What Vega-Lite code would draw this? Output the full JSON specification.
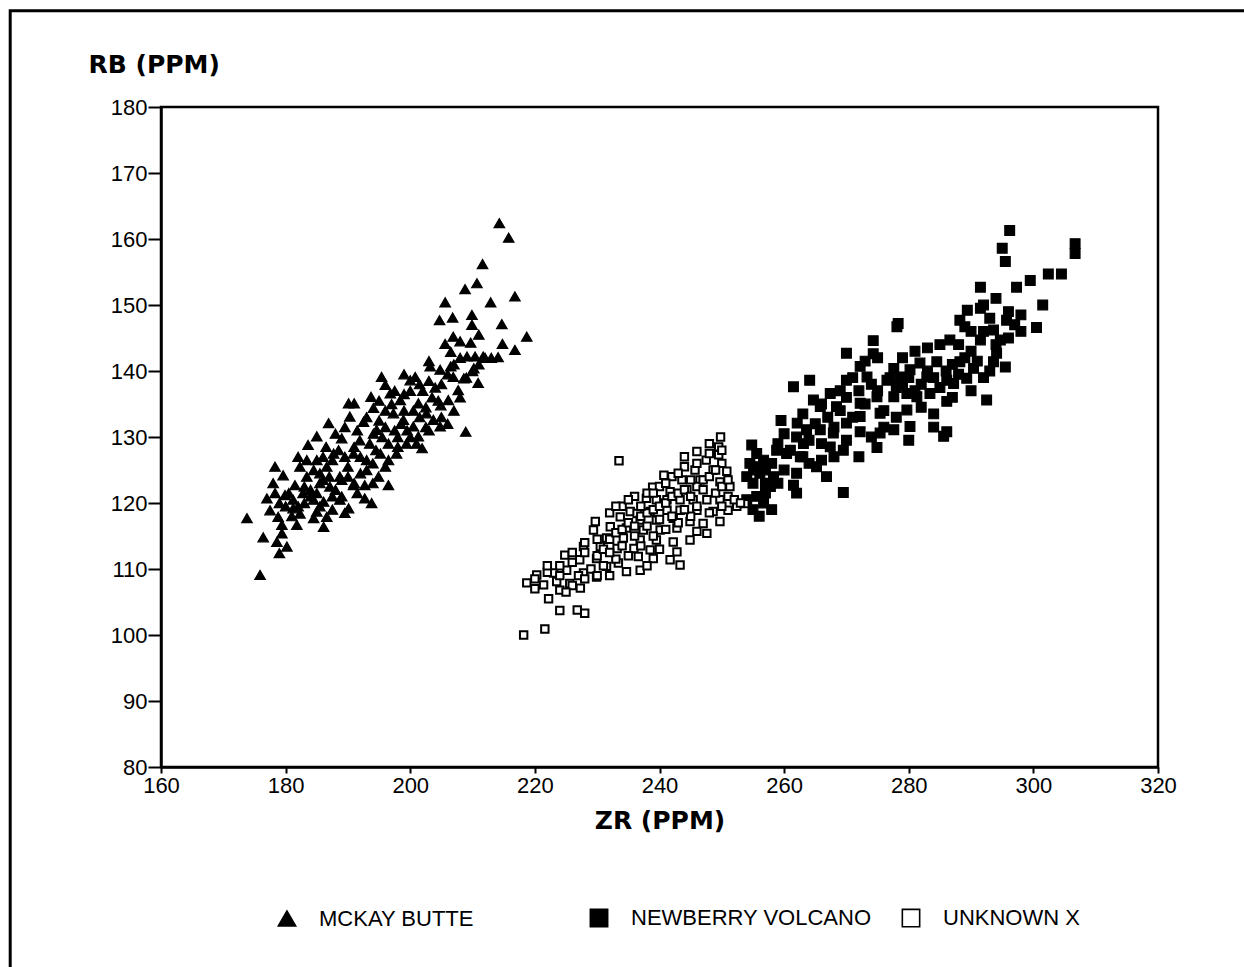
{
  "$schema": "https://vega.github.io/schema/vega-lite/v6.json",
  "width": 997,
  "height": 660,
  "autosize": {"type": "none"},
  "padding": {"left": 161, "top": 107, "right": 86, "bottom": 200},
  "background": "white",
  "config": {
    "view": {"stroke": "black", "strokeWidth": 2.5},
    "font": "Liberation Sans"
  },
  "layer": [
    {
      "data": {"values": [{"frame": "outer"}]},
      "mark": {"type": "rect", "filled": false, "color": "black", "strokeWidth": 3, "clip": false},
      "encoding": {
        "x": {"datum": 135.8, "type": "quantitative"},
        "x2": {"datum": 400},
        "y": {"datum": 194.6, "type": "quantitative"},
        "y2": {"datum": 0}
      }
    },
    {
      "data": {
        "values": [
          {"group": "MCKAY BUTTE", "zr": 214.3, "rb": 162.4},
          {"group": "MCKAY BUTTE", "zr": 215.8, "rb": 160.2},
          {"group": "MCKAY BUTTE", "zr": 211.6, "rb": 156.2},
          {"group": "MCKAY BUTTE", "zr": 210.7, "rb": 153.3},
          {"group": "MCKAY BUTTE", "zr": 208.8, "rb": 152.4},
          {"group": "MCKAY BUTTE", "zr": 216.8, "rb": 151.3},
          {"group": "MCKAY BUTTE", "zr": 212.9, "rb": 150.4},
          {"group": "MCKAY BUTTE", "zr": 205.6, "rb": 150.4},
          {"group": "MCKAY BUTTE", "zr": 204.7, "rb": 147.7},
          {"group": "MCKAY BUTTE", "zr": 206.8, "rb": 148.1},
          {"group": "MCKAY BUTTE", "zr": 209.9, "rb": 148.5},
          {"group": "MCKAY BUTTE", "zr": 209.9, "rb": 147.0},
          {"group": "MCKAY BUTTE", "zr": 214.7, "rb": 147.1},
          {"group": "MCKAY BUTTE", "zr": 218.7, "rb": 145.2},
          {"group": "MCKAY BUTTE", "zr": 206.9, "rb": 145.2},
          {"group": "MCKAY BUTTE", "zr": 209.7, "rb": 144.3},
          {"group": "MCKAY BUTTE", "zr": 214.8, "rb": 144.1},
          {"group": "MCKAY BUTTE", "zr": 216.8, "rb": 143.2},
          {"group": "MCKAY BUTTE", "zr": 205.6, "rb": 144.1},
          {"group": "MCKAY BUTTE", "zr": 206.5, "rb": 142.9},
          {"group": "MCKAY BUTTE", "zr": 209.1, "rb": 142.2},
          {"group": "MCKAY BUTTE", "zr": 210.4, "rb": 142.2},
          {"group": "MCKAY BUTTE", "zr": 211.7, "rb": 142.2},
          {"group": "MCKAY BUTTE", "zr": 214.1, "rb": 142.1},
          {"group": "MCKAY BUTTE", "zr": 210.2, "rb": 140.4},
          {"group": "MCKAY BUTTE", "zr": 206.5, "rb": 140.7},
          {"group": "MCKAY BUTTE", "zr": 210.9, "rb": 138.2},
          {"group": "MCKAY BUTTE", "zr": 208.6, "rb": 138.9},
          {"group": "MCKAY BUTTE", "zr": 206.9, "rb": 139.1},
          {"group": "MCKAY BUTTE", "zr": 207.7, "rb": 137.1},
          {"group": "MCKAY BUTTE", "zr": 206.1, "rb": 135.6},
          {"group": "MCKAY BUTTE", "zr": 204.9, "rb": 134.8},
          {"group": "MCKAY BUTTE", "zr": 203.2, "rb": 140.7},
          {"group": "MCKAY BUTTE", "zr": 204.8, "rb": 140.2},
          {"group": "MCKAY BUTTE", "zr": 200.8, "rb": 139.1},
          {"group": "MCKAY BUTTE", "zr": 200.0, "rb": 138.6},
          {"group": "MCKAY BUTTE", "zr": 195.4, "rb": 139.1},
          {"group": "MCKAY BUTTE", "zr": 196.0, "rb": 137.9},
          {"group": "MCKAY BUTTE", "zr": 193.7, "rb": 136.1},
          {"group": "MCKAY BUTTE", "zr": 196.8, "rb": 136.6},
          {"group": "MCKAY BUTTE", "zr": 198.4, "rb": 135.6},
          {"group": "MCKAY BUTTE", "zr": 190.1, "rb": 135.1},
          {"group": "MCKAY BUTTE", "zr": 191.0, "rb": 135.1},
          {"group": "MCKAY BUTTE", "zr": 194.1, "rb": 134.4},
          {"group": "MCKAY BUTTE", "zr": 197.3, "rb": 133.6},
          {"group": "MCKAY BUTTE", "zr": 201.3, "rb": 135.1},
          {"group": "MCKAY BUTTE", "zr": 202.6, "rb": 133.6},
          {"group": "MCKAY BUTTE", "zr": 203.7, "rb": 132.6},
          {"group": "MCKAY BUTTE", "zr": 204.8, "rb": 131.6},
          {"group": "MCKAY BUTTE", "zr": 208.9, "rb": 130.8},
          {"group": "MCKAY BUTTE", "zr": 186.9, "rb": 132.1},
          {"group": "MCKAY BUTTE", "zr": 190.3, "rb": 133.1},
          {"group": "MCKAY BUTTE", "zr": 192.5, "rb": 132.3},
          {"group": "MCKAY BUTTE", "zr": 194.6, "rb": 131.1},
          {"group": "MCKAY BUTTE", "zr": 198.9, "rb": 132.6},
          {"group": "MCKAY BUTTE", "zr": 200.5, "rb": 131.6},
          {"group": "MCKAY BUTTE", "zr": 201.3, "rb": 130.1},
          {"group": "MCKAY BUTTE", "zr": 201.9, "rb": 128.3},
          {"group": "MCKAY BUTTE", "zr": 199.4, "rb": 129.0},
          {"group": "MCKAY BUTTE", "zr": 197.8, "rb": 127.5},
          {"group": "MCKAY BUTTE", "zr": 185.0, "rb": 130.1},
          {"group": "MCKAY BUTTE", "zr": 183.6, "rb": 128.8},
          {"group": "MCKAY BUTTE", "zr": 189.0, "rb": 129.8},
          {"group": "MCKAY BUTTE", "zr": 191.9, "rb": 129.5},
          {"group": "MCKAY BUTTE", "zr": 194.1, "rb": 130.5},
          {"group": "MCKAY BUTTE", "zr": 187.7, "rb": 127.5},
          {"group": "MCKAY BUTTE", "zr": 190.9, "rb": 127.5},
          {"group": "MCKAY BUTTE", "zr": 193.0, "rb": 126.5},
          {"group": "MCKAY BUTTE", "zr": 195.2, "rb": 127.5},
          {"group": "MCKAY BUTTE", "zr": 196.0, "rb": 125.5},
          {"group": "MCKAY BUTTE", "zr": 194.9, "rb": 124.0},
          {"group": "MCKAY BUTTE", "zr": 196.5, "rb": 122.7},
          {"group": "MCKAY BUTTE", "zr": 192.7, "rb": 122.7},
          {"group": "MCKAY BUTTE", "zr": 190.9, "rb": 122.7},
          {"group": "MCKAY BUTTE", "zr": 188.7, "rb": 124.0},
          {"group": "MCKAY BUTTE", "zr": 186.6, "rb": 125.5},
          {"group": "MCKAY BUTTE", "zr": 185.0, "rb": 126.5},
          {"group": "MCKAY BUTTE", "zr": 183.4, "rb": 126.5},
          {"group": "MCKAY BUTTE", "zr": 182.3, "rb": 125.5},
          {"group": "MCKAY BUTTE", "zr": 183.4, "rb": 124.0},
          {"group": "MCKAY BUTTE", "zr": 181.5, "rb": 122.7},
          {"group": "MCKAY BUTTE", "zr": 178.3, "rb": 125.5},
          {"group": "MCKAY BUTTE", "zr": 179.6, "rb": 124.2},
          {"group": "MCKAY BUTTE", "zr": 185.5, "rb": 123.0},
          {"group": "MCKAY BUTTE", "zr": 187.1, "rb": 122.5},
          {"group": "MCKAY BUTTE", "zr": 178.3, "rb": 121.5},
          {"group": "MCKAY BUTTE", "zr": 177.0, "rb": 120.7},
          {"group": "MCKAY BUTTE", "zr": 179.9, "rb": 121.2},
          {"group": "MCKAY BUTTE", "zr": 181.2, "rb": 120.5},
          {"group": "MCKAY BUTTE", "zr": 182.8, "rb": 121.5},
          {"group": "MCKAY BUTTE", "zr": 184.5, "rb": 120.5},
          {"group": "MCKAY BUTTE", "zr": 186.1, "rb": 120.2},
          {"group": "MCKAY BUTTE", "zr": 188.7, "rb": 120.5},
          {"group": "MCKAY BUTTE", "zr": 190.1, "rb": 119.2},
          {"group": "MCKAY BUTTE", "zr": 192.7, "rb": 120.7},
          {"group": "MCKAY BUTTE", "zr": 193.8, "rb": 120.0},
          {"group": "MCKAY BUTTE", "zr": 177.5, "rb": 118.9},
          {"group": "MCKAY BUTTE", "zr": 181.2, "rb": 119.2},
          {"group": "MCKAY BUTTE", "zr": 182.3, "rb": 118.4},
          {"group": "MCKAY BUTTE", "zr": 185.0, "rb": 118.7},
          {"group": "MCKAY BUTTE", "zr": 186.6, "rb": 117.9},
          {"group": "MCKAY BUTTE", "zr": 173.8, "rb": 117.7},
          {"group": "MCKAY BUTTE", "zr": 178.8, "rb": 117.9},
          {"group": "MCKAY BUTTE", "zr": 179.4, "rb": 116.7},
          {"group": "MCKAY BUTTE", "zr": 181.8, "rb": 116.7},
          {"group": "MCKAY BUTTE", "zr": 184.5, "rb": 117.7},
          {"group": "MCKAY BUTTE", "zr": 186.1, "rb": 116.4},
          {"group": "MCKAY BUTTE", "zr": 176.4, "rb": 114.8},
          {"group": "MCKAY BUTTE", "zr": 179.4, "rb": 115.4},
          {"group": "MCKAY BUTTE", "zr": 178.6, "rb": 114.1},
          {"group": "MCKAY BUTTE", "zr": 180.2, "rb": 113.4},
          {"group": "MCKAY BUTTE", "zr": 179.0, "rb": 112.4},
          {"group": "MCKAY BUTTE", "zr": 175.9, "rb": 109.1},
          {"group": "MCKAY BUTTE", "zr": 187.5, "rb": 126.5},
          {"group": "MCKAY BUTTE", "zr": 188.5, "rb": 128.0},
          {"group": "MCKAY BUTTE", "zr": 189.5, "rb": 127.0},
          {"group": "MCKAY BUTTE", "zr": 190.0, "rb": 125.5},
          {"group": "MCKAY BUTTE", "zr": 191.0, "rb": 128.5},
          {"group": "MCKAY BUTTE", "zr": 192.0, "rb": 127.0},
          {"group": "MCKAY BUTTE", "zr": 193.5, "rb": 129.0},
          {"group": "MCKAY BUTTE", "zr": 194.5, "rb": 128.0},
          {"group": "MCKAY BUTTE", "zr": 195.5, "rb": 130.0},
          {"group": "MCKAY BUTTE", "zr": 196.5, "rb": 129.0},
          {"group": "MCKAY BUTTE", "zr": 197.5, "rb": 131.0},
          {"group": "MCKAY BUTTE", "zr": 198.5, "rb": 132.0},
          {"group": "MCKAY BUTTE", "zr": 199.5, "rb": 131.0},
          {"group": "MCKAY BUTTE", "zr": 200.5, "rb": 134.0},
          {"group": "MCKAY BUTTE", "zr": 201.5, "rb": 133.0},
          {"group": "MCKAY BUTTE", "zr": 202.5, "rb": 134.5},
          {"group": "MCKAY BUTTE", "zr": 203.5, "rb": 136.0},
          {"group": "MCKAY BUTTE", "zr": 204.0, "rb": 137.5},
          {"group": "MCKAY BUTTE", "zr": 205.0, "rb": 138.0},
          {"group": "MCKAY BUTTE", "zr": 206.0, "rb": 139.5},
          {"group": "MCKAY BUTTE", "zr": 207.0, "rb": 141.0},
          {"group": "MCKAY BUTTE", "zr": 208.0, "rb": 142.0},
          {"group": "MCKAY BUTTE", "zr": 184.0, "rb": 122.0},
          {"group": "MCKAY BUTTE", "zr": 185.0, "rb": 121.5},
          {"group": "MCKAY BUTTE", "zr": 186.0, "rb": 123.5},
          {"group": "MCKAY BUTTE", "zr": 187.0, "rb": 124.0},
          {"group": "MCKAY BUTTE", "zr": 188.0, "rb": 122.0},
          {"group": "MCKAY BUTTE", "zr": 189.0, "rb": 123.5},
          {"group": "MCKAY BUTTE", "zr": 190.0, "rb": 124.0},
          {"group": "MCKAY BUTTE", "zr": 191.0, "rb": 123.0},
          {"group": "MCKAY BUTTE", "zr": 192.0, "rb": 124.5},
          {"group": "MCKAY BUTTE", "zr": 193.0, "rb": 125.0},
          {"group": "MCKAY BUTTE", "zr": 194.0, "rb": 126.0},
          {"group": "MCKAY BUTTE", "zr": 182.0, "rb": 119.5},
          {"group": "MCKAY BUTTE", "zr": 183.0, "rb": 120.0},
          {"group": "MCKAY BUTTE", "zr": 184.0, "rb": 121.0},
          {"group": "MCKAY BUTTE", "zr": 181.0, "rb": 118.0},
          {"group": "MCKAY BUTTE", "zr": 180.0, "rb": 119.5},
          {"group": "MCKAY BUTTE", "zr": 179.0, "rb": 120.0},
          {"group": "MCKAY BUTTE", "zr": 185.5, "rb": 119.5},
          {"group": "MCKAY BUTTE", "zr": 187.5, "rb": 119.0},
          {"group": "MCKAY BUTTE", "zr": 189.0, "rb": 121.0},
          {"group": "MCKAY BUTTE", "zr": 195.0, "rb": 132.5},
          {"group": "MCKAY BUTTE", "zr": 196.0, "rb": 134.0},
          {"group": "MCKAY BUTTE", "zr": 197.0, "rb": 135.0},
          {"group": "MCKAY BUTTE", "zr": 199.0, "rb": 134.0},
          {"group": "MCKAY BUTTE", "zr": 200.0, "rb": 137.0},
          {"group": "MCKAY BUTTE", "zr": 202.0, "rb": 137.0},
          {"group": "MCKAY BUTTE", "zr": 198.0, "rb": 130.0},
          {"group": "MCKAY BUTTE", "zr": 200.0, "rb": 130.0},
          {"group": "MCKAY BUTTE", "zr": 201.0, "rb": 129.0},
          {"group": "MCKAY BUTTE", "zr": 203.0, "rb": 131.0},
          {"group": "MCKAY BUTTE", "zr": 205.0, "rb": 133.0},
          {"group": "MCKAY BUTTE", "zr": 206.0, "rb": 132.0},
          {"group": "MCKAY BUTTE", "zr": 207.0, "rb": 134.0},
          {"group": "MCKAY BUTTE", "zr": 208.0, "rb": 136.0},
          {"group": "MCKAY BUTTE", "zr": 209.0, "rb": 139.0},
          {"group": "MCKAY BUTTE", "zr": 210.0, "rb": 140.0},
          {"group": "MCKAY BUTTE", "zr": 211.0, "rb": 141.0},
          {"group": "MCKAY BUTTE", "zr": 212.0, "rb": 142.0},
          {"group": "MCKAY BUTTE", "zr": 213.0, "rb": 142.0},
          {"group": "MCKAY BUTTE", "zr": 186.5, "rb": 128.5},
          {"group": "MCKAY BUTTE", "zr": 188.0, "rb": 130.5},
          {"group": "MCKAY BUTTE", "zr": 189.5, "rb": 131.5},
          {"group": "MCKAY BUTTE", "zr": 191.5, "rb": 131.0},
          {"group": "MCKAY BUTTE", "zr": 193.0, "rb": 133.0},
          {"group": "MCKAY BUTTE", "zr": 195.0, "rb": 135.5},
          {"group": "MCKAY BUTTE", "zr": 197.5, "rb": 137.0},
          {"group": "MCKAY BUTTE", "zr": 199.0, "rb": 139.5},
          {"group": "MCKAY BUTTE", "zr": 201.5, "rb": 138.0},
          {"group": "MCKAY BUTTE", "zr": 203.0, "rb": 138.5},
          {"group": "MCKAY BUTTE", "zr": 198.0, "rb": 128.5},
          {"group": "MCKAY BUTTE", "zr": 196.5, "rb": 126.5},
          {"group": "MCKAY BUTTE", "zr": 194.0, "rb": 123.0},
          {"group": "MCKAY BUTTE", "zr": 191.5, "rb": 121.5},
          {"group": "MCKAY BUTTE", "zr": 189.5, "rb": 118.5},
          {"group": "MCKAY BUTTE", "zr": 187.5, "rb": 121.0},
          {"group": "MCKAY BUTTE", "zr": 185.5, "rb": 124.5},
          {"group": "MCKAY BUTTE", "zr": 183.0, "rb": 122.5},
          {"group": "MCKAY BUTTE", "zr": 180.5, "rb": 121.5},
          {"group": "MCKAY BUTTE", "zr": 178.0, "rb": 123.0},
          {"group": "MCKAY BUTTE", "zr": 182.0, "rb": 127.0},
          {"group": "MCKAY BUTTE", "zr": 184.5, "rb": 125.0},
          {"group": "MCKAY BUTTE", "zr": 186.0, "rb": 127.0},
          {"group": "MCKAY BUTTE", "zr": 196.0, "rb": 131.5},
          {"group": "MCKAY BUTTE", "zr": 199.0, "rb": 136.5},
          {"group": "MCKAY BUTTE", "zr": 202.5, "rb": 131.5},
          {"group": "MCKAY BUTTE", "zr": 204.5, "rb": 135.5},
          {"group": "MCKAY BUTTE", "zr": 203.0, "rb": 141.5},
          {"group": "MCKAY BUTTE", "zr": 208.0, "rb": 144.5},
          {"group": "MCKAY BUTTE", "zr": 211.0, "rb": 145.5},

          {"group": "NEWBERRY VOLCANO", "zr": 296.2, "rb": 161.3},
          {"group": "NEWBERRY VOLCANO", "zr": 295.0, "rb": 158.6},
          {"group": "NEWBERRY VOLCANO", "zr": 295.5, "rb": 156.6},
          {"group": "NEWBERRY VOLCANO", "zr": 306.7, "rb": 159.3},
          {"group": "NEWBERRY VOLCANO", "zr": 306.7, "rb": 157.8},
          {"group": "NEWBERRY VOLCANO", "zr": 302.4, "rb": 154.7},
          {"group": "NEWBERRY VOLCANO", "zr": 304.5, "rb": 154.7},
          {"group": "NEWBERRY VOLCANO", "zr": 299.5, "rb": 153.7},
          {"group": "NEWBERRY VOLCANO", "zr": 297.3, "rb": 152.7},
          {"group": "NEWBERRY VOLCANO", "zr": 291.5, "rb": 152.7},
          {"group": "NEWBERRY VOLCANO", "zr": 301.5, "rb": 150.0},
          {"group": "NEWBERRY VOLCANO", "zr": 300.5, "rb": 146.6},
          {"group": "NEWBERRY VOLCANO", "zr": 289.4, "rb": 149.2},
          {"group": "NEWBERRY VOLCANO", "zr": 291.5, "rb": 149.5},
          {"group": "NEWBERRY VOLCANO", "zr": 278.3, "rb": 147.2},
          {"group": "NEWBERRY VOLCANO", "zr": 278.1, "rb": 146.7},
          {"group": "NEWBERRY VOLCANO", "zr": 295.7, "rb": 147.7},
          {"group": "NEWBERRY VOLCANO", "zr": 288.2, "rb": 147.7},
          {"group": "NEWBERRY VOLCANO", "zr": 289.0, "rb": 146.7},
          {"group": "NEWBERRY VOLCANO", "zr": 286.6, "rb": 144.7},
          {"group": "NEWBERRY VOLCANO", "zr": 291.5, "rb": 144.7},
          {"group": "NEWBERRY VOLCANO", "zr": 293.6, "rb": 146.2},
          {"group": "NEWBERRY VOLCANO", "zr": 294.7, "rb": 144.7},
          {"group": "NEWBERRY VOLCANO", "zr": 274.3, "rb": 144.6},
          {"group": "NEWBERRY VOLCANO", "zr": 274.3, "rb": 142.6},
          {"group": "NEWBERRY VOLCANO", "zr": 270.0, "rb": 142.7},
          {"group": "NEWBERRY VOLCANO", "zr": 294.1, "rb": 142.7},
          {"group": "NEWBERRY VOLCANO", "zr": 293.6, "rb": 141.4},
          {"group": "NEWBERRY VOLCANO", "zr": 295.5, "rb": 140.6},
          {"group": "NEWBERRY VOLCANO", "zr": 288.2, "rb": 141.4},
          {"group": "NEWBERRY VOLCANO", "zr": 290.4, "rb": 140.4},
          {"group": "NEWBERRY VOLCANO", "zr": 289.3, "rb": 138.9},
          {"group": "NEWBERRY VOLCANO", "zr": 284.5, "rb": 141.4},
          {"group": "NEWBERRY VOLCANO", "zr": 281.8, "rb": 141.2},
          {"group": "NEWBERRY VOLCANO", "zr": 280.2, "rb": 140.2},
          {"group": "NEWBERRY VOLCANO", "zr": 277.6, "rb": 140.4},
          {"group": "NEWBERRY VOLCANO", "zr": 272.2, "rb": 140.7},
          {"group": "NEWBERRY VOLCANO", "zr": 273.3, "rb": 139.1},
          {"group": "NEWBERRY VOLCANO", "zr": 270.0, "rb": 138.6},
          {"group": "NEWBERRY VOLCANO", "zr": 276.5, "rb": 138.6},
          {"group": "NEWBERRY VOLCANO", "zr": 278.6, "rb": 139.1},
          {"group": "NEWBERRY VOLCANO", "zr": 282.9, "rb": 139.1},
          {"group": "NEWBERRY VOLCANO", "zr": 286.1, "rb": 138.6},
          {"group": "NEWBERRY VOLCANO", "zr": 287.2, "rb": 138.1},
          {"group": "NEWBERRY VOLCANO", "zr": 264.1, "rb": 138.6},
          {"group": "NEWBERRY VOLCANO", "zr": 261.5, "rb": 137.6},
          {"group": "NEWBERRY VOLCANO", "zr": 267.4, "rb": 136.6},
          {"group": "NEWBERRY VOLCANO", "zr": 264.7, "rb": 135.6},
          {"group": "NEWBERRY VOLCANO", "zr": 265.8, "rb": 134.6},
          {"group": "NEWBERRY VOLCANO", "zr": 268.4, "rb": 134.6},
          {"group": "NEWBERRY VOLCANO", "zr": 272.2, "rb": 135.1},
          {"group": "NEWBERRY VOLCANO", "zr": 274.9, "rb": 136.1},
          {"group": "NEWBERRY VOLCANO", "zr": 277.6, "rb": 136.1},
          {"group": "NEWBERRY VOLCANO", "zr": 279.7, "rb": 136.6},
          {"group": "NEWBERRY VOLCANO", "zr": 281.3, "rb": 136.1},
          {"group": "NEWBERRY VOLCANO", "zr": 283.4, "rb": 136.6},
          {"group": "NEWBERRY VOLCANO", "zr": 286.1, "rb": 135.4},
          {"group": "NEWBERRY VOLCANO", "zr": 292.5, "rb": 135.6},
          {"group": "NEWBERRY VOLCANO", "zr": 279.7, "rb": 134.1},
          {"group": "NEWBERRY VOLCANO", "zr": 275.4, "rb": 133.6},
          {"group": "NEWBERRY VOLCANO", "zr": 272.2, "rb": 133.1},
          {"group": "NEWBERRY VOLCANO", "zr": 270.0, "rb": 132.1},
          {"group": "NEWBERRY VOLCANO", "zr": 259.5, "rb": 132.5},
          {"group": "NEWBERRY VOLCANO", "zr": 262.1, "rb": 132.1},
          {"group": "NEWBERRY VOLCANO", "zr": 263.6, "rb": 131.1},
          {"group": "NEWBERRY VOLCANO", "zr": 265.8, "rb": 131.1},
          {"group": "NEWBERRY VOLCANO", "zr": 267.9, "rb": 130.6},
          {"group": "NEWBERRY VOLCANO", "zr": 272.2, "rb": 130.8},
          {"group": "NEWBERRY VOLCANO", "zr": 275.4, "rb": 130.6},
          {"group": "NEWBERRY VOLCANO", "zr": 277.6, "rb": 131.1},
          {"group": "NEWBERRY VOLCANO", "zr": 280.2, "rb": 131.6},
          {"group": "NEWBERRY VOLCANO", "zr": 286.1, "rb": 130.8},
          {"group": "NEWBERRY VOLCANO", "zr": 285.6, "rb": 130.1},
          {"group": "NEWBERRY VOLCANO", "zr": 274.9, "rb": 128.4},
          {"group": "NEWBERRY VOLCANO", "zr": 269.5, "rb": 128.0},
          {"group": "NEWBERRY VOLCANO", "zr": 267.4, "rb": 128.5},
          {"group": "NEWBERRY VOLCANO", "zr": 263.1, "rb": 129.0},
          {"group": "NEWBERRY VOLCANO", "zr": 262.6, "rb": 127.0},
          {"group": "NEWBERRY VOLCANO", "zr": 260.4, "rb": 127.5},
          {"group": "NEWBERRY VOLCANO", "zr": 258.8, "rb": 128.0},
          {"group": "NEWBERRY VOLCANO", "zr": 256.7, "rb": 126.5},
          {"group": "NEWBERRY VOLCANO", "zr": 254.8, "rb": 128.8},
          {"group": "NEWBERRY VOLCANO", "zr": 255.6, "rb": 127.5},
          {"group": "NEWBERRY VOLCANO", "zr": 265.2, "rb": 125.5},
          {"group": "NEWBERRY VOLCANO", "zr": 266.8, "rb": 124.0},
          {"group": "NEWBERRY VOLCANO", "zr": 261.5, "rb": 122.7},
          {"group": "NEWBERRY VOLCANO", "zr": 258.3, "rb": 124.0},
          {"group": "NEWBERRY VOLCANO", "zr": 256.1, "rb": 124.5},
          {"group": "NEWBERRY VOLCANO", "zr": 255.1, "rb": 125.5},
          {"group": "NEWBERRY VOLCANO", "zr": 257.8, "rb": 122.5},
          {"group": "NEWBERRY VOLCANO", "zr": 255.6, "rb": 121.0},
          {"group": "NEWBERRY VOLCANO", "zr": 269.5, "rb": 121.6},
          {"group": "NEWBERRY VOLCANO", "zr": 256.7, "rb": 120.0},
          {"group": "NEWBERRY VOLCANO", "zr": 258.0, "rb": 126.0},
          {"group": "NEWBERRY VOLCANO", "zr": 259.0, "rb": 129.0},
          {"group": "NEWBERRY VOLCANO", "zr": 260.0, "rb": 125.0},
          {"group": "NEWBERRY VOLCANO", "zr": 261.0, "rb": 128.0},
          {"group": "NEWBERRY VOLCANO", "zr": 262.0, "rb": 130.0},
          {"group": "NEWBERRY VOLCANO", "zr": 263.0, "rb": 127.0},
          {"group": "NEWBERRY VOLCANO", "zr": 264.0, "rb": 129.5},
          {"group": "NEWBERRY VOLCANO", "zr": 265.0, "rb": 132.0},
          {"group": "NEWBERRY VOLCANO", "zr": 266.0, "rb": 129.0},
          {"group": "NEWBERRY VOLCANO", "zr": 267.0, "rb": 133.0},
          {"group": "NEWBERRY VOLCANO", "zr": 268.0, "rb": 131.5},
          {"group": "NEWBERRY VOLCANO", "zr": 269.0, "rb": 134.0},
          {"group": "NEWBERRY VOLCANO", "zr": 270.0, "rb": 136.0},
          {"group": "NEWBERRY VOLCANO", "zr": 271.0, "rb": 133.0},
          {"group": "NEWBERRY VOLCANO", "zr": 272.0, "rb": 137.0},
          {"group": "NEWBERRY VOLCANO", "zr": 273.0, "rb": 135.0},
          {"group": "NEWBERRY VOLCANO", "zr": 274.0, "rb": 138.0},
          {"group": "NEWBERRY VOLCANO", "zr": 275.0, "rb": 137.0},
          {"group": "NEWBERRY VOLCANO", "zr": 276.0, "rb": 134.0},
          {"group": "NEWBERRY VOLCANO", "zr": 277.0, "rb": 139.0},
          {"group": "NEWBERRY VOLCANO", "zr": 278.0, "rb": 137.5},
          {"group": "NEWBERRY VOLCANO", "zr": 279.0, "rb": 138.0},
          {"group": "NEWBERRY VOLCANO", "zr": 280.0, "rb": 139.0},
          {"group": "NEWBERRY VOLCANO", "zr": 281.0, "rb": 137.0},
          {"group": "NEWBERRY VOLCANO", "zr": 282.0, "rb": 138.0},
          {"group": "NEWBERRY VOLCANO", "zr": 283.0, "rb": 140.0},
          {"group": "NEWBERRY VOLCANO", "zr": 284.0, "rb": 139.0},
          {"group": "NEWBERRY VOLCANO", "zr": 285.0, "rb": 137.5},
          {"group": "NEWBERRY VOLCANO", "zr": 286.0, "rb": 140.0},
          {"group": "NEWBERRY VOLCANO", "zr": 287.0, "rb": 141.0},
          {"group": "NEWBERRY VOLCANO", "zr": 288.0, "rb": 139.5},
          {"group": "NEWBERRY VOLCANO", "zr": 289.0, "rb": 142.0},
          {"group": "NEWBERRY VOLCANO", "zr": 290.0, "rb": 143.0},
          {"group": "NEWBERRY VOLCANO", "zr": 291.0, "rb": 141.5},
          {"group": "NEWBERRY VOLCANO", "zr": 292.0, "rb": 146.0},
          {"group": "NEWBERRY VOLCANO", "zr": 293.0, "rb": 148.0},
          {"group": "NEWBERRY VOLCANO", "zr": 294.0, "rb": 144.0},
          {"group": "NEWBERRY VOLCANO", "zr": 296.0, "rb": 145.0},
          {"group": "NEWBERRY VOLCANO", "zr": 297.0, "rb": 147.0},
          {"group": "NEWBERRY VOLCANO", "zr": 287.0, "rb": 136.0},
          {"group": "NEWBERRY VOLCANO", "zr": 284.0, "rb": 133.5},
          {"group": "NEWBERRY VOLCANO", "zr": 282.0, "rb": 134.5},
          {"group": "NEWBERRY VOLCANO", "zr": 278.0, "rb": 133.0},
          {"group": "NEWBERRY VOLCANO", "zr": 276.0, "rb": 131.5},
          {"group": "NEWBERRY VOLCANO", "zr": 274.0, "rb": 130.0},
          {"group": "NEWBERRY VOLCANO", "zr": 270.0, "rb": 129.5},
          {"group": "NEWBERRY VOLCANO", "zr": 268.0, "rb": 127.0},
          {"group": "NEWBERRY VOLCANO", "zr": 264.0, "rb": 126.0},
          {"group": "NEWBERRY VOLCANO", "zr": 262.0, "rb": 124.5},
          {"group": "NEWBERRY VOLCANO", "zr": 259.0, "rb": 123.0},
          {"group": "NEWBERRY VOLCANO", "zr": 257.0, "rb": 121.5},
          {"group": "NEWBERRY VOLCANO", "zr": 255.0, "rb": 119.0},
          {"group": "NEWBERRY VOLCANO", "zr": 256.0, "rb": 118.0},
          {"group": "NEWBERRY VOLCANO", "zr": 257.0, "rb": 123.0},
          {"group": "NEWBERRY VOLCANO", "zr": 254.0, "rb": 120.5},
          {"group": "NEWBERRY VOLCANO", "zr": 255.0, "rb": 123.0},
          {"group": "NEWBERRY VOLCANO", "zr": 254.5, "rb": 126.0},
          {"group": "NEWBERRY VOLCANO", "zr": 254.0, "rb": 124.0},
          {"group": "NEWBERRY VOLCANO", "zr": 255.5, "rb": 125.0},
          {"group": "NEWBERRY VOLCANO", "zr": 258.0, "rb": 119.0},
          {"group": "NEWBERRY VOLCANO", "zr": 257.0, "rb": 125.0},
          {"group": "NEWBERRY VOLCANO", "zr": 260.0, "rb": 130.5},
          {"group": "NEWBERRY VOLCANO", "zr": 263.0, "rb": 133.5},
          {"group": "NEWBERRY VOLCANO", "zr": 266.0, "rb": 135.0},
          {"group": "NEWBERRY VOLCANO", "zr": 269.0, "rb": 137.0},
          {"group": "NEWBERRY VOLCANO", "zr": 271.0, "rb": 139.0},
          {"group": "NEWBERRY VOLCANO", "zr": 273.0, "rb": 141.5},
          {"group": "NEWBERRY VOLCANO", "zr": 275.0, "rb": 142.0},
          {"group": "NEWBERRY VOLCANO", "zr": 279.0, "rb": 142.0},
          {"group": "NEWBERRY VOLCANO", "zr": 281.0, "rb": 143.0},
          {"group": "NEWBERRY VOLCANO", "zr": 283.0, "rb": 143.5},
          {"group": "NEWBERRY VOLCANO", "zr": 285.0, "rb": 144.0},
          {"group": "NEWBERRY VOLCANO", "zr": 288.0, "rb": 144.0},
          {"group": "NEWBERRY VOLCANO", "zr": 290.0, "rb": 146.0},
          {"group": "NEWBERRY VOLCANO", "zr": 292.0, "rb": 150.0},
          {"group": "NEWBERRY VOLCANO", "zr": 294.0, "rb": 151.0},
          {"group": "NEWBERRY VOLCANO", "zr": 296.0, "rb": 149.0},
          {"group": "NEWBERRY VOLCANO", "zr": 298.0, "rb": 146.0},
          {"group": "NEWBERRY VOLCANO", "zr": 290.0, "rb": 137.0},
          {"group": "NEWBERRY VOLCANO", "zr": 292.0, "rb": 139.0},
          {"group": "NEWBERRY VOLCANO", "zr": 284.0, "rb": 131.5},
          {"group": "NEWBERRY VOLCANO", "zr": 280.0, "rb": 129.5},
          {"group": "NEWBERRY VOLCANO", "zr": 272.0, "rb": 127.0},
          {"group": "NEWBERRY VOLCANO", "zr": 266.0, "rb": 126.5},
          {"group": "NEWBERRY VOLCANO", "zr": 262.0, "rb": 121.5},
          {"group": "NEWBERRY VOLCANO", "zr": 298.0, "rb": 148.5},
          {"group": "NEWBERRY VOLCANO", "zr": 293.0, "rb": 140.0},

          {"group": "UNKNOWN X", "zr": 233.5, "rb": 126.4},
          {"group": "UNKNOWN X", "zr": 249.8, "rb": 130.0},
          {"group": "UNKNOWN X", "zr": 249.5, "rb": 128.5},
          {"group": "UNKNOWN X", "zr": 246.0, "rb": 127.8},
          {"group": "UNKNOWN X", "zr": 249.5, "rb": 127.3},
          {"group": "UNKNOWN X", "zr": 247.5, "rb": 126.5},
          {"group": "UNKNOWN X", "zr": 240.7, "rb": 124.2},
          {"group": "UNKNOWN X", "zr": 245.7, "rb": 125.0},
          {"group": "UNKNOWN X", "zr": 248.6, "rb": 125.0},
          {"group": "UNKNOWN X", "zr": 250.8, "rb": 124.8},
          {"group": "UNKNOWN X", "zr": 238.9, "rb": 122.4},
          {"group": "UNKNOWN X", "zr": 243.6, "rb": 123.5},
          {"group": "UNKNOWN X", "zr": 246.5, "rb": 123.5},
          {"group": "UNKNOWN X", "zr": 249.7, "rb": 123.2},
          {"group": "UNKNOWN X", "zr": 251.3, "rb": 122.5},
          {"group": "UNKNOWN X", "zr": 241.7, "rb": 121.7},
          {"group": "UNKNOWN X", "zr": 244.4, "rb": 122.0},
          {"group": "UNKNOWN X", "zr": 237.9, "rb": 120.7},
          {"group": "UNKNOWN X", "zr": 239.5, "rb": 120.5},
          {"group": "UNKNOWN X", "zr": 241.2, "rb": 120.5},
          {"group": "UNKNOWN X", "zr": 243.3, "rb": 120.5},
          {"group": "UNKNOWN X", "zr": 245.4, "rb": 120.5},
          {"group": "UNKNOWN X", "zr": 247.6, "rb": 120.5},
          {"group": "UNKNOWN X", "zr": 249.7, "rb": 120.5},
          {"group": "UNKNOWN X", "zr": 252.4, "rb": 119.5},
          {"group": "UNKNOWN X", "zr": 253.7, "rb": 119.9},
          {"group": "UNKNOWN X", "zr": 251.0, "rb": 118.9},
          {"group": "UNKNOWN X", "zr": 235.3, "rb": 118.7},
          {"group": "UNKNOWN X", "zr": 236.4, "rb": 118.4},
          {"group": "UNKNOWN X", "zr": 238.5, "rb": 118.7},
          {"group": "UNKNOWN X", "zr": 241.2, "rb": 118.9},
          {"group": "UNKNOWN X", "zr": 243.3, "rb": 118.9},
          {"group": "UNKNOWN X", "zr": 246.0, "rb": 118.9},
          {"group": "UNKNOWN X", "zr": 248.6, "rb": 118.7},
          {"group": "UNKNOWN X", "zr": 233.7, "rb": 117.9},
          {"group": "UNKNOWN X", "zr": 236.9, "rb": 117.4},
          {"group": "UNKNOWN X", "zr": 239.5, "rb": 117.4},
          {"group": "UNKNOWN X", "zr": 242.2, "rb": 117.7},
          {"group": "UNKNOWN X", "zr": 244.9, "rb": 117.2},
          {"group": "UNKNOWN X", "zr": 247.0, "rb": 116.9},
          {"group": "UNKNOWN X", "zr": 249.7, "rb": 117.2},
          {"group": "UNKNOWN X", "zr": 229.7, "rb": 117.2},
          {"group": "UNKNOWN X", "zr": 229.4, "rb": 115.9},
          {"group": "UNKNOWN X", "zr": 232.1, "rb": 116.4},
          {"group": "UNKNOWN X", "zr": 234.7, "rb": 116.2},
          {"group": "UNKNOWN X", "zr": 237.4, "rb": 115.9},
          {"group": "UNKNOWN X", "zr": 240.1, "rb": 115.9},
          {"group": "UNKNOWN X", "zr": 242.8, "rb": 116.2},
          {"group": "UNKNOWN X", "zr": 246.0, "rb": 115.7},
          {"group": "UNKNOWN X", "zr": 247.6, "rb": 115.4},
          {"group": "UNKNOWN X", "zr": 244.9, "rb": 114.4},
          {"group": "UNKNOWN X", "zr": 242.2, "rb": 114.1},
          {"group": "UNKNOWN X", "zr": 239.5, "rb": 114.4},
          {"group": "UNKNOWN X", "zr": 236.9, "rb": 114.4},
          {"group": "UNKNOWN X", "zr": 234.2, "rb": 114.7},
          {"group": "UNKNOWN X", "zr": 231.5, "rb": 114.7},
          {"group": "UNKNOWN X", "zr": 227.8, "rb": 113.4},
          {"group": "UNKNOWN X", "zr": 230.5, "rb": 113.4},
          {"group": "UNKNOWN X", "zr": 233.2, "rb": 113.1},
          {"group": "UNKNOWN X", "zr": 235.9, "rb": 113.1},
          {"group": "UNKNOWN X", "zr": 238.5, "rb": 112.9},
          {"group": "UNKNOWN X", "zr": 242.8, "rb": 112.6},
          {"group": "UNKNOWN X", "zr": 241.7, "rb": 111.4},
          {"group": "UNKNOWN X", "zr": 239.0, "rb": 111.6},
          {"group": "UNKNOWN X", "zr": 236.6, "rb": 111.9},
          {"group": "UNKNOWN X", "zr": 233.4, "rb": 110.9},
          {"group": "UNKNOWN X", "zr": 234.7, "rb": 109.6},
          {"group": "UNKNOWN X", "zr": 236.9, "rb": 109.8},
          {"group": "UNKNOWN X", "zr": 243.3, "rb": 110.6},
          {"group": "UNKNOWN X", "zr": 224.8, "rb": 112.1},
          {"group": "UNKNOWN X", "zr": 227.2, "rb": 111.4},
          {"group": "UNKNOWN X", "zr": 229.9, "rb": 111.6},
          {"group": "UNKNOWN X", "zr": 231.5, "rb": 110.4},
          {"group": "UNKNOWN X", "zr": 223.0, "rb": 109.4},
          {"group": "UNKNOWN X", "zr": 225.1, "rb": 109.8},
          {"group": "UNKNOWN X", "zr": 227.8, "rb": 109.4},
          {"group": "UNKNOWN X", "zr": 229.9, "rb": 108.8},
          {"group": "UNKNOWN X", "zr": 220.3, "rb": 109.1},
          {"group": "UNKNOWN X", "zr": 218.7, "rb": 107.9},
          {"group": "UNKNOWN X", "zr": 221.4, "rb": 107.6},
          {"group": "UNKNOWN X", "zr": 223.5, "rb": 108.1},
          {"group": "UNKNOWN X", "zr": 225.6, "rb": 107.8},
          {"group": "UNKNOWN X", "zr": 227.3, "rb": 107.1},
          {"group": "UNKNOWN X", "zr": 224.0, "rb": 106.8},
          {"group": "UNKNOWN X", "zr": 222.2, "rb": 105.5},
          {"group": "UNKNOWN X", "zr": 224.0, "rb": 103.7},
          {"group": "UNKNOWN X", "zr": 226.8, "rb": 103.8},
          {"group": "UNKNOWN X", "zr": 228.0, "rb": 103.3},
          {"group": "UNKNOWN X", "zr": 218.2, "rb": 100.0},
          {"group": "UNKNOWN X", "zr": 221.6, "rb": 100.9},
          {"group": "UNKNOWN X", "zr": 226.0, "rb": 111.0},
          {"group": "UNKNOWN X", "zr": 228.0, "rb": 112.5},
          {"group": "UNKNOWN X", "zr": 230.0, "rb": 112.0},
          {"group": "UNKNOWN X", "zr": 231.0, "rb": 113.0},
          {"group": "UNKNOWN X", "zr": 232.0, "rb": 114.5},
          {"group": "UNKNOWN X", "zr": 233.0, "rb": 115.5},
          {"group": "UNKNOWN X", "zr": 234.0, "rb": 116.0},
          {"group": "UNKNOWN X", "zr": 235.0, "rb": 117.0},
          {"group": "UNKNOWN X", "zr": 236.0, "rb": 116.5},
          {"group": "UNKNOWN X", "zr": 237.0, "rb": 118.0},
          {"group": "UNKNOWN X", "zr": 238.0, "rb": 118.5},
          {"group": "UNKNOWN X", "zr": 239.0, "rb": 119.0},
          {"group": "UNKNOWN X", "zr": 240.0, "rb": 119.5},
          {"group": "UNKNOWN X", "zr": 241.0, "rb": 120.0},
          {"group": "UNKNOWN X", "zr": 242.0, "rb": 121.0},
          {"group": "UNKNOWN X", "zr": 243.0, "rb": 121.5},
          {"group": "UNKNOWN X", "zr": 244.0, "rb": 122.0},
          {"group": "UNKNOWN X", "zr": 245.0, "rb": 121.0},
          {"group": "UNKNOWN X", "zr": 246.0, "rb": 122.5},
          {"group": "UNKNOWN X", "zr": 247.0, "rb": 123.5},
          {"group": "UNKNOWN X", "zr": 248.0, "rb": 124.0},
          {"group": "UNKNOWN X", "zr": 249.0, "rb": 121.5},
          {"group": "UNKNOWN X", "zr": 250.0, "rb": 122.5},
          {"group": "UNKNOWN X", "zr": 251.0, "rb": 121.0},
          {"group": "UNKNOWN X", "zr": 250.0, "rb": 126.0},
          {"group": "UNKNOWN X", "zr": 248.0, "rb": 127.5},
          {"group": "UNKNOWN X", "zr": 245.0, "rb": 118.0},
          {"group": "UNKNOWN X", "zr": 243.0, "rb": 117.0},
          {"group": "UNKNOWN X", "zr": 241.0, "rb": 116.0},
          {"group": "UNKNOWN X", "zr": 239.0, "rb": 115.0},
          {"group": "UNKNOWN X", "zr": 237.0, "rb": 113.5},
          {"group": "UNKNOWN X", "zr": 235.0, "rb": 112.0},
          {"group": "UNKNOWN X", "zr": 233.0, "rb": 111.5},
          {"group": "UNKNOWN X", "zr": 231.0, "rb": 110.5},
          {"group": "UNKNOWN X", "zr": 229.0, "rb": 110.0},
          {"group": "UNKNOWN X", "zr": 227.0, "rb": 109.0},
          {"group": "UNKNOWN X", "zr": 234.0, "rb": 119.5},
          {"group": "UNKNOWN X", "zr": 236.0, "rb": 121.0},
          {"group": "UNKNOWN X", "zr": 238.0, "rb": 121.5},
          {"group": "UNKNOWN X", "zr": 240.0, "rb": 122.5},
          {"group": "UNKNOWN X", "zr": 242.0, "rb": 124.0},
          {"group": "UNKNOWN X", "zr": 244.0, "rb": 125.5},
          {"group": "UNKNOWN X", "zr": 246.0, "rb": 119.5},
          {"group": "UNKNOWN X", "zr": 248.0, "rb": 118.5},
          {"group": "UNKNOWN X", "zr": 250.0, "rb": 119.5},
          {"group": "UNKNOWN X", "zr": 252.0, "rb": 120.5},
          {"group": "UNKNOWN X", "zr": 253.0, "rb": 120.0},
          {"group": "UNKNOWN X", "zr": 220.0, "rb": 108.5},
          {"group": "UNKNOWN X", "zr": 222.0, "rb": 109.5},
          {"group": "UNKNOWN X", "zr": 224.0, "rb": 110.5},
          {"group": "UNKNOWN X", "zr": 226.0, "rb": 107.5},
          {"group": "UNKNOWN X", "zr": 228.0, "rb": 108.5},
          {"group": "UNKNOWN X", "zr": 230.0, "rb": 109.0},
          {"group": "UNKNOWN X", "zr": 232.0, "rb": 109.0},
          {"group": "UNKNOWN X", "zr": 225.0, "rb": 106.5},
          {"group": "UNKNOWN X", "zr": 232.0, "rb": 118.5},
          {"group": "UNKNOWN X", "zr": 233.0, "rb": 119.5},
          {"group": "UNKNOWN X", "zr": 235.0, "rb": 120.5},
          {"group": "UNKNOWN X", "zr": 237.0, "rb": 119.5},
          {"group": "UNKNOWN X", "zr": 239.0, "rb": 121.5},
          {"group": "UNKNOWN X", "zr": 241.0, "rb": 123.0},
          {"group": "UNKNOWN X", "zr": 243.0, "rb": 124.5},
          {"group": "UNKNOWN X", "zr": 245.0, "rb": 123.5},
          {"group": "UNKNOWN X", "zr": 247.0, "rb": 122.0},
          {"group": "UNKNOWN X", "zr": 249.0, "rb": 125.0},
          {"group": "UNKNOWN X", "zr": 251.0, "rb": 123.5},
          {"group": "UNKNOWN X", "zr": 244.0, "rb": 119.0},
          {"group": "UNKNOWN X", "zr": 242.0, "rb": 118.0},
          {"group": "UNKNOWN X", "zr": 240.0, "rb": 117.5},
          {"group": "UNKNOWN X", "zr": 238.0, "rb": 116.5},
          {"group": "UNKNOWN X", "zr": 236.0, "rb": 115.0},
          {"group": "UNKNOWN X", "zr": 234.0, "rb": 113.5},
          {"group": "UNKNOWN X", "zr": 232.0, "rb": 112.5},
          {"group": "UNKNOWN X", "zr": 230.0, "rb": 114.5},
          {"group": "UNKNOWN X", "zr": 228.0, "rb": 114.0},
          {"group": "UNKNOWN X", "zr": 226.0, "rb": 112.5},
          {"group": "UNKNOWN X", "zr": 224.0, "rb": 109.0},
          {"group": "UNKNOWN X", "zr": 222.0, "rb": 110.5},
          {"group": "UNKNOWN X", "zr": 220.0, "rb": 107.0},
          {"group": "UNKNOWN X", "zr": 244.0, "rb": 127.0},
          {"group": "UNKNOWN X", "zr": 246.0, "rb": 126.0},
          {"group": "UNKNOWN X", "zr": 248.0, "rb": 129.0},
          {"group": "UNKNOWN X", "zr": 250.0, "rb": 128.0},
          {"group": "UNKNOWN X", "zr": 240.0, "rb": 113.0},
          {"group": "UNKNOWN X", "zr": 238.0, "rb": 110.5}
        ]
      },
      "encoding": {
        "x": {
          "field": "zr",
          "type": "quantitative",
          "scale": {"domain": [160, 320], "nice": false, "zero": false},
          "axis": {
            "values": [160, 180, 200, 220, 240, 260, 280, 300, 320],
            "grid": false,
            "domainColor": "black",
            "domainWidth": 2.5,
            "tickColor": "black",
            "tickWidth": 2,
            "tickSize": 6,
            "labelFont": "Liberation Sans",
            "labelFontSize": 22,
            "labelColor": "black",
            "labelPadding": 2,
            "labelFlush": false,
            "labelOverlap": false,
            "title": "ZR (PPM)",
            "titleFont": "DejaVu Sans",
            "titleFontWeight": "bold",
            "titleFontSize": 25,
            "titleColor": "black",
            "titleBaseline": "alphabetic",
            "titleY": 61
          }
        },
        "y": {
          "field": "rb",
          "type": "quantitative",
          "scale": {"domain": [80, 180], "nice": false, "zero": false},
          "axis": {
            "values": [80, 90, 100, 110, 120, 130, 140, 150, 160, 170, 180],
            "grid": false,
            "domainColor": "black",
            "domainWidth": 2.5,
            "tickColor": "black",
            "tickWidth": 2,
            "tickSize": 13,
            "labelFont": "Liberation Sans",
            "labelFontSize": 22,
            "labelColor": "black",
            "labelPadding": 1,
            "labelFlush": false,
            "labelOverlap": false,
            "title": "RB (PPM)",
            "titleFont": "DejaVu Sans",
            "titleFontWeight": "bold",
            "titleFontSize": 25,
            "titleColor": "black",
            "titleAngle": 0,
            "titleAlign": "left",
            "titleBaseline": "alphabetic",
            "titleX": -73,
            "titleY": -35
          }
        },
        "shape": {
          "field": "group",
          "type": "nominal",
          "scale": {"domain": ["MCKAY BUTTE", "NEWBERRY VOLCANO", "UNKNOWN X"], "range": ["triangle-up", "square", "square"]},
          "legend": {
            "orient": "none",
            "legendX": 115,
            "legendY": 800,
            "direction": "horizontal",
            "columns": 3,
            "gridAlign": "all",
            "columnPadding": 27,
            "padding": 0,
            "title": null,
            "labelFont": "Liberation Sans",
            "labelFontSize": 22,
            "labelColor": "black",
            "labelLimit": 400,
            "labelOffset": 21,
            "symbolSize": 300,
            "symbolStrokeColor": "black",
            "symbolStrokeWidth": 1.6,
            "encode": {
              "symbols": {
                "size": {"value": {"expr": "datum.value === 'MCKAY BUTTE' ? 440 : (datum.value === 'NEWBERRY VOLCANO' ? 200 : 130)"}},
                "stroke": {"value": "black"},
                "strokeWidth": {"value": 1.6}
              }
            }
          }
        },
        "fill": {
          "field": "group",
          "type": "nominal",
          "scale": {"domain": ["MCKAY BUTTE", "NEWBERRY VOLCANO", "UNKNOWN X"], "range": ["black", "black", "white"]},
          "legend": {
            "orient": "none",
            "legendX": 115,
            "legendY": 800,
            "direction": "horizontal",
            "columns": 3,
            "gridAlign": "all",
            "columnPadding": 27,
            "padding": 0,
            "title": null,
            "labelFont": "Liberation Sans",
            "labelFontSize": 22,
            "labelColor": "black",
            "labelLimit": 400,
            "labelOffset": 21,
            "symbolSize": 300,
            "symbolStrokeColor": "black",
            "symbolStrokeWidth": 1.6,
            "encode": {
              "symbols": {
                "size": {"value": {"expr": "datum.value === 'MCKAY BUTTE' ? 440 : (datum.value === 'NEWBERRY VOLCANO' ? 200 : 130)"}},
                "stroke": {"value": "black"},
                "strokeWidth": {"value": 1.6}
              }
            }
          }
        },
        "stroke": {
          "field": "group",
          "type": "nominal",
          "scale": {"domain": ["MCKAY BUTTE", "NEWBERRY VOLCANO", "UNKNOWN X"], "range": ["black", "black", "black"]},
          "legend": {
            "orient": "none",
            "legendX": 115,
            "legendY": 800,
            "direction": "horizontal",
            "columns": 3,
            "gridAlign": "all",
            "columnPadding": 27,
            "padding": 0,
            "title": null,
            "labelFont": "Liberation Sans",
            "labelFontSize": 22,
            "labelColor": "black",
            "labelLimit": 400,
            "labelOffset": 21,
            "symbolSize": 300,
            "symbolStrokeColor": "black",
            "symbolStrokeWidth": 1.6,
            "encode": {
              "symbols": {
                "size": {"value": {"expr": "datum.value === 'MCKAY BUTTE' ? 440 : (datum.value === 'NEWBERRY VOLCANO' ? 200 : 130)"}},
                "strokeWidth": {"value": 1.6}
              }
            }
          }
        }
      },
      "layer": [
        {
          "transform": [{"filter": "datum.group === 'MCKAY BUTTE'"}],
          "mark": {"type": "point", "filled": true, "strokeWidth": 1.2, "size": 110, "opacity": 1}
        },
        {
          "transform": [{"filter": "datum.group === 'NEWBERRY VOLCANO'"}],
          "mark": {"type": "point", "filled": true, "strokeWidth": 1.2, "size": 95, "opacity": 1}
        },
        {
          "transform": [{"filter": "datum.group === 'UNKNOWN X'"}],
          "mark": {"type": "point", "filled": true, "strokeWidth": 2, "size": 55, "opacity": 1}
        }
      ]
    }
  ]
}
